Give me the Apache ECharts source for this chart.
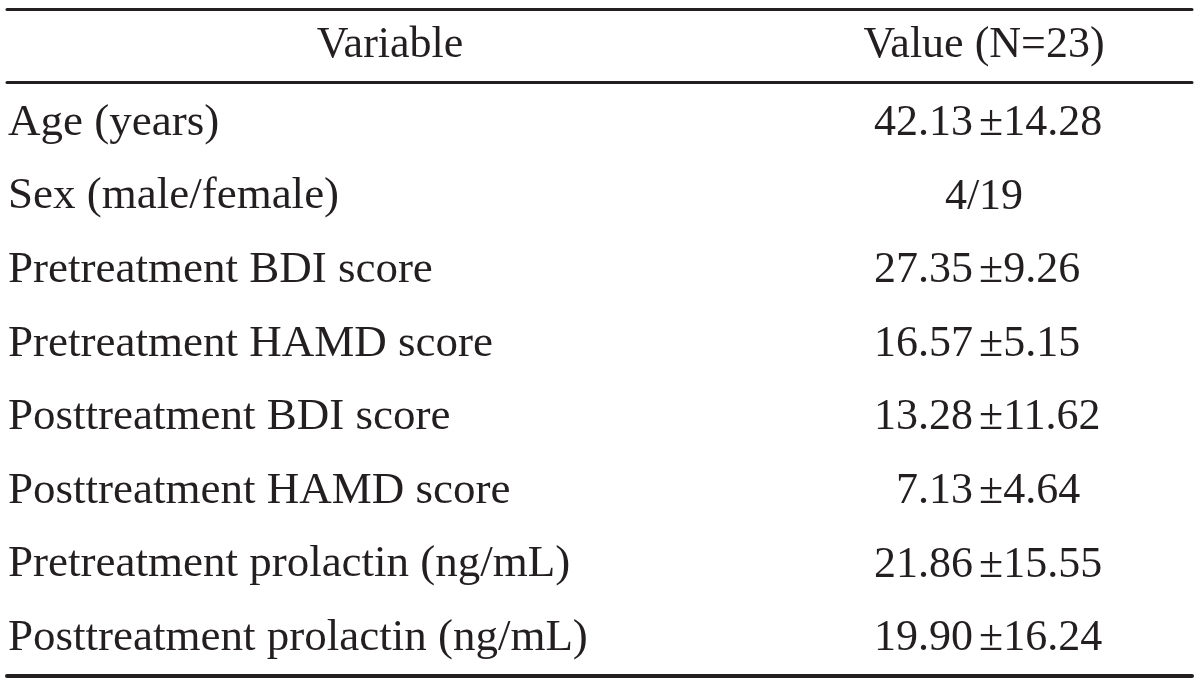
<!DOCTYPE html>
<html>
<head>
<meta charset="utf-8">
<script src="https://cdn.jsdelivr.net/npm/echarts@6/dist/echarts.min.js"></script>
<style>
  html, body { margin: 0; padding: 0; background: #ffffff; }
  #chart { width: 1200px; height: 685px; }
</style>
</head>
<body>
<div id="chart"></div>
<script>
// ---- table content ----
const columnHeaders = ['Variable', 'Value (N=23)'];
const variables = [
  'Age (years)',
  'Sex (male/female)',
  'Pretreatment BDI score',
  'Pretreatment HAMD score',
  'Posttreatment BDI score',
  'Posttreatment HAMD score',
  'Pretreatment prolactin (ng/mL)',
  'Posttreatment prolactin (ng/mL)'
];
const values = [
  '42.13±14.28',
  '4/19',
  '27.35±9.26',
  '16.57±5.15',
  '13.28±11.62',
  '7.13±4.64',
  '21.86±15.55',
  '19.90±16.24'
];

const FONT = 'Liberation Serif';
const INK = '#231f20';
const FS_LEFT = 45;
const FS = 44;

const chart = echarts.init(document.getElementById('chart'), null, { renderer: 'canvas' });

// split "mean±sd" into its two parts so the ± signs line up in one column
function meanPart(s) { const k = s.indexOf('±'); return k < 0 ? s : s.slice(0, k); }
function sdPart(s) { const k = s.indexOf('±'); return k < 0 ? '' : s.slice(k); }

const baseLabel = {
  show: true,
  position: 'inside',
  verticalAlign: 'middle',
  fontFamily: FONT,
  fontSize: FS,
  color: INK,
  opacity: 1,
  textBorderWidth: 0
};

const option = {
  animation: false,
  backgroundColor: '#ffffff',
  grid: { left: 7, right: 8, top: 82, bottom: 14, containLabel: false },
  xAxis: [
    {
      type: 'category',
      data: columnHeaders,
      position: 'top',
      boundaryGap: false,
      axisLine: { show: true, lineStyle: { color: INK, width: 3 } },
      axisTick: { show: false },
      splitLine: { show: false },
      axisLabel: {
        show: true,
        interval: 0,
        margin: 15,
        color: INK,
        fontFamily: FONT,
        fontSize: FS,
        formatter: function (v, i) { return i === 0 ? '{h0|' + v + '}' : '{h1|' + v + '}'; },
        rich: {
          h0: { fontFamily: FONT, fontSize: FS, color: INK, padding: [0, 0, 0, 766] },
          h1: { fontFamily: FONT, fontSize: FS, color: INK, padding: [0, 416, 0, 0] }
        }
      }
    },
    {
      type: 'category',
      data: columnHeaders,
      position: 'bottom',
      offset: 4.5,
      boundaryGap: false,
      axisLine: { show: true, lineStyle: { color: INK, width: 4 } },
      axisTick: { show: false },
      axisLabel: { show: false },
      splitLine: { show: false }
    },
    {
      type: 'category',
      data: columnHeaders,
      position: 'top',
      offset: 72.5,
      boundaryGap: false,
      axisLine: { show: true, lineStyle: { color: INK, width: 3 } },
      axisTick: { show: false },
      axisLabel: { show: false },
      splitLine: { show: false }
    }
  ],
  yAxis: {
    type: 'category',
    data: variables,
    inverse: true,
    axisLine: { show: false },
    axisTick: { show: false },
    axisLabel: { show: false },
    splitLine: { show: false }
  },
  series: [
    {
      name: 'Variable',
      type: 'scatter',
      symbolSize: 0,
      silent: true,
      itemStyle: { opacity: 1 },
      emphasis: { disabled: true },
      data: variables.map(v => [columnHeaders[0], v]),
      label: Object.assign({}, baseLabel, {
        align: 'left',
        offset: [1, 4],
        fontSize: FS_LEFT,
        formatter: p => p.value[1]
      })
    },
    {
      name: 'Value mean',
      type: 'scatter',
      symbolSize: 0,
      silent: true,
      itemStyle: { opacity: 1 },
      emphasis: { disabled: true },
      data: variables.map((v, i) => {
        const item = { value: [columnHeaders[1], v, meanPart(values[i])] };
        if (sdPart(values[i]) === '') {
          item.label = { align: 'center', offset: [-208, 4.5] };
        }
        return item;
      }),
      label: Object.assign({}, baseLabel, {
        align: 'right',
        offset: [-219, 4.5],
        formatter: p => p.value[2]
      })
    },
    {
      name: 'Value sd',
      type: 'scatter',
      symbolSize: 0,
      silent: true,
      itemStyle: { opacity: 1 },
      emphasis: { disabled: true },
      data: variables.map((v, i) => [columnHeaders[1], v, sdPart(values[i])]),
      label: Object.assign({}, baseLabel, {
        align: 'left',
        offset: [-213, 4.5],
        formatter: p => p.value[2]
      })
    }
  ]
};

chart.setOption(option);
</script>
</body>
</html>
